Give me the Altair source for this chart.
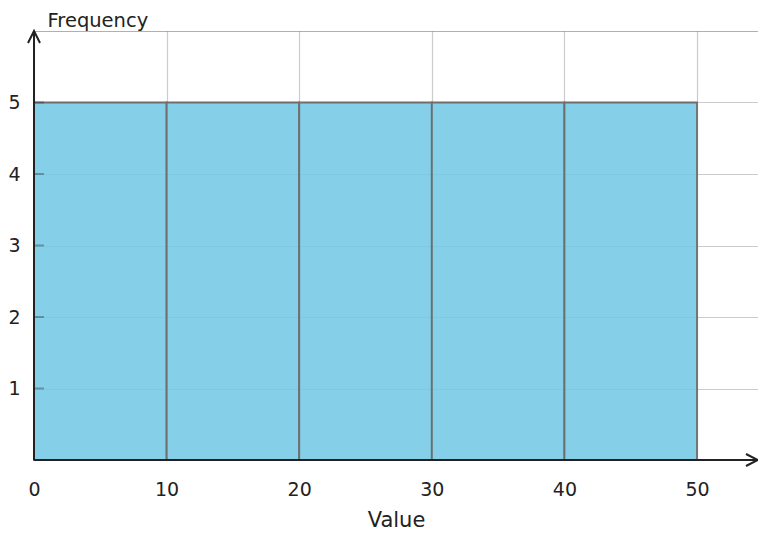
import altair as alt
import pandas as pd

# Histogram data
bin_start = [0, 10, 20, 30, 40]
bin_end = [10, 20, 30, 40, 50]
frequency = [5, 5, 5, 5, 5]
x_ticks = [0, 10, 20, 30, 40, 50]
y_ticks = [1, 2, 3, 4, 5, 6]
x_max = 54.6
y_max = 6

bars_df = pd.DataFrame({"start": bin_start, "end": bin_end, "freq": frequency})
ytick_df = pd.DataFrame({"freq": y_ticks[:-1]})
arrow_x_df = pd.DataFrame({"start": [x_max], "freq": [0]})
arrow_y_df = pd.DataFrame({"start": [0], "freq": [y_max]})
xaxis_df = pd.DataFrame({"start": [0], "end": [x_max], "freq": [0]})
yaxis_df = pd.DataFrame({"start": [0], "freq": [y_max], "base": [0]})

FONT = "DejaVu Sans"
TXT = "#222222"

xs = alt.Scale(domain=[0, x_max], nice=False, zero=False)
ys = alt.Scale(domain=[0, y_max], nice=False, zero=False)

x_axis = alt.Axis(
    values=x_ticks, format="d", grid=True, gridColor="#000000", gridOpacity=0.2, gridWidth=1.2,
    domain=False, ticks=False, labelPadding=20, labelFontSize=19,
    labelColor=TXT, labelFlush=False, labelFont=FONT,
    title="Value", titleFontSize=21, titleFontWeight="normal", titleColor=TXT, titleFont=FONT,
    titleY=66, titleBaseline="alphabetic", zindex=0,
)
y_axis = alt.Axis(
    values=y_ticks, format="d", grid=True, gridColor="#000000", gridOpacity=0.2, gridWidth=1.2,
    domain=False, ticks=False, labelPadding=14, labelFontSize=19,
    labelColor=TXT, labelFlush=False, labelFont=FONT,
    labelExpr="datum.value >= 6 ? '' : datum.label",
    title="Frequency", titleFontSize=19.5, titleFontWeight="normal", titleColor=TXT, titleFont=FONT,
    titleAngle=0, titleAlign="left", titleBaseline="alphabetic", titleX=13, titleY=-4.5, zindex=0,
)

bars = alt.Chart(bars_df).mark_bar(
    color="#70C8E4", fillOpacity=0.85, stroke="#6E6E6E", strokeWidth=1.8, strokeOpacity=1
).encode(
    x=alt.X("start:Q", scale=xs, axis=x_axis),
    x2="end:Q",
    y=alt.Y("freq:Q", scale=ys, axis=y_axis),
    y2=alt.datum(0),
)

yticks = alt.Chart(ytick_df).mark_rule(color="#333333", strokeWidth=2, opacity=0.4).encode(
    x=alt.value(0), x2=alt.value(10), y=alt.Y("freq:Q", scale=ys)
)

x_line = alt.Chart(xaxis_df).mark_rule(color=TXT, strokeWidth=2).encode(
    x=alt.X("start:Q", scale=xs), x2="end:Q", y=alt.Y("freq:Q", scale=ys)
)
y_line = alt.Chart(yaxis_df).mark_rule(color=TXT, strokeWidth=2).encode(
    x=alt.X("start:Q", scale=xs), y=alt.Y("freq:Q", scale=ys), y2="base:Q"
)

arrow_x = alt.Chart(arrow_x_df).mark_point(
    shape="M -2 -1 L 0 0 L -2 1", size=144, filled=False, stroke=TXT, strokeWidth=2, opacity=1
).encode(x=alt.X("start:Q", scale=xs), y=alt.Y("freq:Q", scale=ys))

arrow_y = alt.Chart(arrow_y_df).mark_point(
    shape="M -1 2 L 0 0 L 1 2", size=144, filled=False, stroke=TXT, strokeWidth=2, opacity=1
).encode(x=alt.X("start:Q", scale=xs), y=alt.Y("freq:Q", scale=ys))

chart = alt.layer(bars, yticks, x_line, y_line, arrow_x, arrow_y).properties(
    width=724, height=429,
    autosize=alt.AutoSizeParams(type="none"),
    padding={"left": 26, "top": 23, "right": 0, "bottom": 72},
).configure_view(stroke=None).configure(font=FONT)

chart.save("out.html", embed_options={"renderer": "svg", "actions": False})
